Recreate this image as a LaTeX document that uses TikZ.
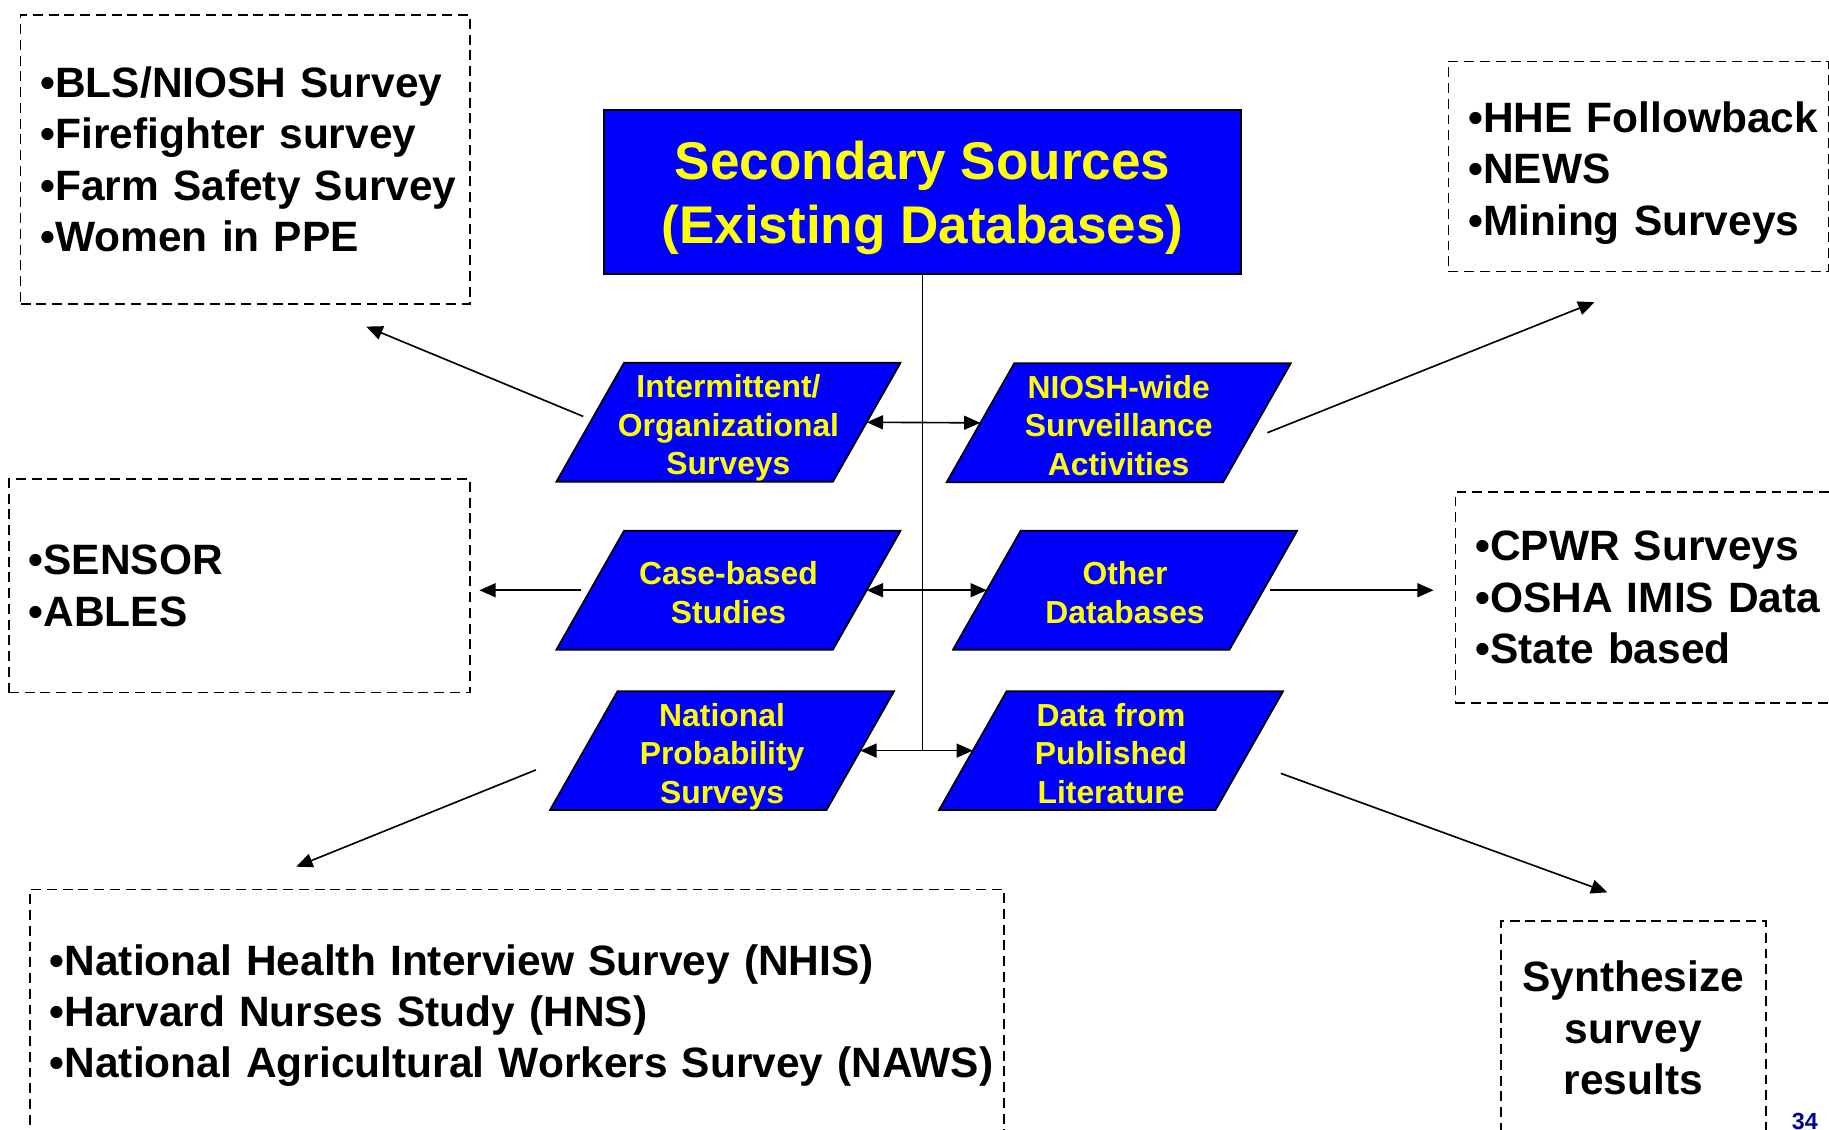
\documentclass[tikz,border=0pt]{standalone}
\usepackage{fontspec}
\setmainfont{Liberation Sans}
\usetikzlibrary{arrows.meta}
\definecolor{pptblue}{RGB}{0,0,255}
\definecolor{pptyellow}{RGB}{255,255,0}
\definecolor{slidenum}{RGB}{0,0,153}
\newcommand{\upstrut}[1]{\rule{0pt}{#1}}
\newcommand{\downstrut}[1]{\rule[-#1]{0pt}{#1}}
\begin{document}
\begin{tikzpicture}[x=1pt,y=-1pt,>={Triangle[length=14pt,width=12pt]},
    dbox/.style={draw,dash pattern=on 8.5pt off 5pt,line width=1.4pt,anchor=north west,inner xsep=17pt,inner ysep=0pt,align=left,font=\bfseries\fontsize{36.4}{44}\selectfont},
    para/.style={minimum width=297pt,minimum height=104pt,inner sep=0pt,outer sep=0pt,align=center,text=pptyellow,font=\bfseries\fontsize{27.3}{33}\selectfont,
      path picture={\draw[fill=pptblue,line width=1.5pt] ([shift={(1pt,1pt)}]path picture bounding box.south west) -- ++(237pt,0pt) -- ([shift={(-1pt,-1pt)}]path picture bounding box.north east) -- ++(-237pt,0pt) -- cycle;}},
    link/.style={->,line width=1.4pt}]
    \useasboundingbox (0,0) rectangle (1568,968);
    % title
    \node[draw,line width=1.5pt,fill=pptblue,text=pptyellow,minimum width=546pt,minimum height=141pt,align=center,font=\bfseries\fontsize{45.5}{55}\selectfont] (title) at (791,164.5) {\upstrut{46pt}Secondary Sources\\(Existing Databases)\downstrut{12pt}};
    % kinds of sources
    \node[para] (interm) at (624.5,362) {\upstrut{30pt}Intermittent/\\Organizational\\Surveys\downstrut{6pt}};
    \node[para] (niosh) at (959,362.5) {\upstrut{30pt}NIOSH-wide\\Surveillance\\Activities\downstrut{6pt}};
    \node[para] (casebased) at (624.5,506) {\upstrut{30pt}Case-based\\Studies\downstrut{6pt}};
    \node[para] (otherdb) at (964.5,506) {\upstrut{30pt}Other\\Databases\downstrut{6pt}};
    \node[para] (natprob) at (619,643.5) {\upstrut{30pt}National\\Probability\\Surveys\downstrut{6pt}};
    \node[para] (datapub) at (952.5,643.5) {\upstrut{30pt}Data from\\Published\\Literature\downstrut{6pt}};
    % examples
    \node[dbox,text width=351pt,minimum height=248pt] (blsbox) at (17,12) {•BLS/NIOSH Survey\\•Firefighter survey\\\mbox{•Farm Safety Survey}\\•Women in PPE};
    \node[dbox,text width=292pt,minimum height=180pt] (hhebox) at (1241,52) {\mbox{\upstrut{37.6pt}•HHE Followback}\\•NEWS\\•Mining Surveys};
    \node[dbox,text width=361pt,minimum height=183pt] (sensorbox) at (7,410) {•SENSOR\\•ABLES};
    \node[dbox,text width=319pt,minimum height=181pt] (cpwrbox) at (1247,421) {•CPWR Surveys\\•OSHA IMIS Data\\•State based};
    \node[dbox,text width=801pt,minimum height=216pt] (nhisbox) at (25,762) {•National Health Interview Survey (NHIS)\\•Harvard Nurses Study (HNS)\\\mbox{•National Agricultural Workers Survey (NAWS)}};
    \node[dbox,text width=193pt,minimum height=183pt,align=center] (synthbox) at (1286,789) {Synthesize\\survey\\results};
    \node[inner sep=0pt,anchor=base west,text=slidenum,font=\bfseries\fontsize{20}{24}\selectfont] (pagenum) at (1536,968) {34};
    % arrow ends
    \coordinate (blsend) at (314,280);
    \coordinate (hheend) at (1367,259);
    \coordinate (sensorend) at (411,506);
    \coordinate (cpwrend) at (1229,506);
    \coordinate (nhisend) at (254,743);
    \coordinate (synthend) at (1378,765);
    % trunk and arrows
    \draw[line width=1.4pt] (title.south) -- (title.south |- natprob.east);
    \draw[<->,line width=1.4pt] ([xshift=-30pt]interm.east) -- ([xshift=30pt]niosh.west);
    \draw[<->,line width=1.4pt] ([xshift=-30pt]casebased.east) -- ([xshift=30pt]otherdb.west);
    \draw[<->,line width=1.4pt] ([xshift=-30pt]natprob.east) -- ([xshift=30pt]datapub.west);
    \draw[link] ([xshift=24pt,yshift=5pt]interm.west) -- (blsend);
    \draw[link] ([xshift=-21pt,yshift=-8.5pt]niosh.east) -- (hheend);
    \draw[link] ([xshift=22pt]casebased.west) -- (sensorend);
    \draw[link] ([xshift=-24pt]otherdb.east) -- (cpwrend);
    \draw[link] ([xshift=-11pt,yshift=-16.5pt]natprob.west) -- (nhisend);
    \draw[link] ([xshift=-3pt,yshift=-19.5pt]datapub.east) -- (synthend);
\end{tikzpicture}
\end{document}
